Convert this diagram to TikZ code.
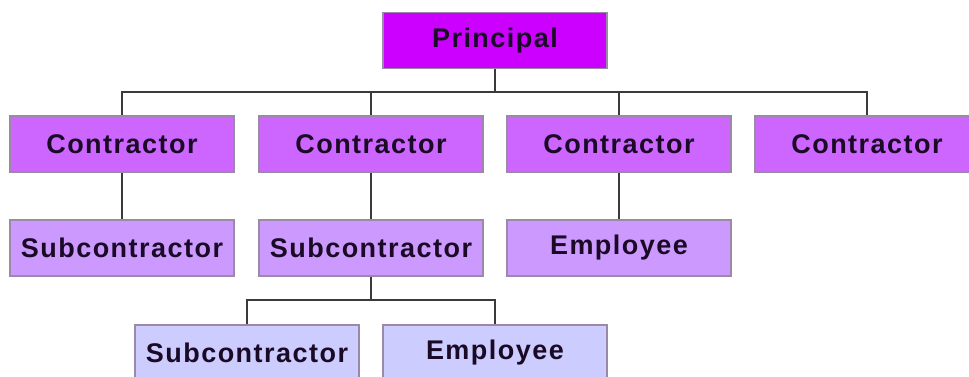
\documentclass[tikz,border=0pt]{standalone}
\usepackage{fontspec}
\setmainfont{Liberation Sans}[LetterSpace=5.5]
\usetikzlibrary{positioning}
\definecolor{pfill}{HTML}{CC00FF}
\definecolor{cfill}{HTML}{CC66FF}
\definecolor{sfill}{HTML}{CC99FF}
\definecolor{bfill}{HTML}{CCCCFF}
\definecolor{bordc}{HTML}{9A8AA8}
\definecolor{txtc}{HTML}{1A0A26}
\definecolor{linec}{HTML}{3A3A3A}
\begin{document}
\begin{tikzpicture}[x=1pt,y=-1pt,
  orgbox/.style={draw=bordc,line width=1.2pt,minimum width=224pt,minimum height=56pt,inner sep=0pt,
    font=\fontsize{27}{30}\selectfont\bfseries,text=txtc},
  link/.style={draw=linec,line width=1.8pt}]
\useasboundingbox (0,0) rectangle (969,376);
\clip (0,0) rectangle (969,376);
\fill[white] (0,0) rectangle (969,376);
\node[orgbox,fill=pfill] (P) at (495,40.5) {Principal};
\node[orgbox,fill=cfill] (C1) at (122,144) {Contractor};
\node[orgbox,fill=cfill] (C2) at (371,144) {Contractor};
\node[orgbox,fill=cfill] (C3) at (619,144) {Contractor};
\node[orgbox,fill=cfill] (C4) at (867,144) {Contractor};
\node[orgbox,fill=sfill] (S1) at (122,248) {Subcontractor};
\node[orgbox,fill=sfill] (S2) at (371,248) {Subcontractor};
\node[orgbox,fill=sfill] (E3) at (619,248) {Employee};
\node[orgbox,fill=bfill] (S4) at (247,353) {Subcontractor};
\node[orgbox,fill=bfill] (E4) at (495,353) {Employee};
\coordinate (bus1) at (495,92);
\coordinate (bus2) at (371,300);
\draw[link] (P.south) -- (bus1);
\draw[link] (bus1) -| (C1.north);
\draw[link] (bus1) -| (C2.north);
\draw[link] (bus1) -| (C3.north);
\draw[link] (bus1) -| (C4.north);
\draw[link] (C1.south) -- (S1.north);
\draw[link] (C2.south) -- (S2.north);
\draw[link] (C3.south) -- (E3.north);
\draw[link] (S2.south) -- (bus2);
\draw[link] (bus2) -| (S4.north);
\draw[link] (bus2) -| (E4.north);
\end{tikzpicture}
\end{document}
